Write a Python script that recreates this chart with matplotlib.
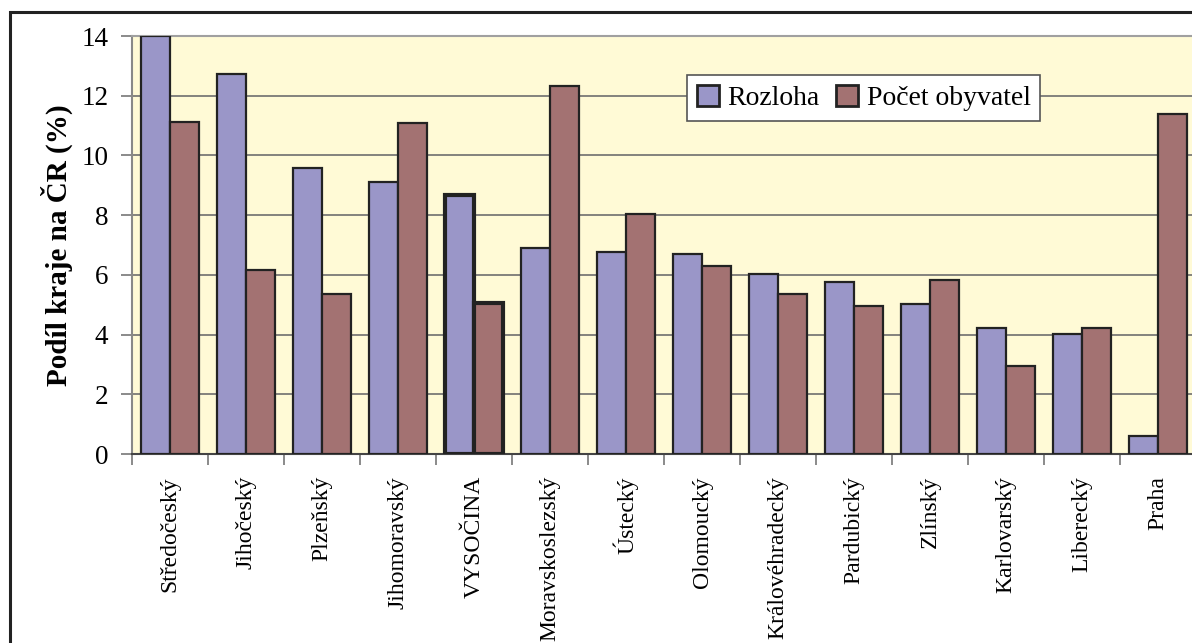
import matplotlib
matplotlib.use("Agg")
import matplotlib.pyplot as plt
from matplotlib.patches import Rectangle
import numpy as np

regions = ["Středočeský", "Jihočeský", "Plzeňský", "Jihomoravský", "VYSOČINA",
           "Moravskoslezský", "Ústecký", "Olomoucký", "Královéhradecký", "Pardubický",
           "Zlínský", "Karlovarský", "Liberecký", "Praha"]
rozloha = [14.0, 12.73, 9.59, 9.11, 8.67, 6.91, 6.78, 6.71, 6.04, 5.76, 5.02, 4.22, 4.02, 0.60]
obyvatel = [11.11, 6.16, 5.36, 11.08, 5.05, 12.34, 8.04, 6.30, 5.36, 4.96, 5.83, 2.95, 4.22, 11.39]
series_names = ["Rozloha", "Počet obyvatel"]
yticks = [0, 2, 4, 6, 8, 10, 12, 14]

plt.rcParams['font.family'] = ['Liberation Serif', 'DejaVu Serif']

W, H = 1192, 643
fig = plt.figure(figsize=(W / 100, H / 100), dpi=100)
fig.patch.set_facecolor('white')

# outer frame (extends beyond right/bottom edges)
fig.patches.append(Rectangle((10 / W, -0.05), 1.2, 1 - 12 / H + 0.05,
                             transform=fig.transFigure, fill=False,
                             edgecolor='#222222', linewidth=2.2, zorder=0))

ax = fig.add_axes([132 / W, 189 / H, 1064 / W, 418 / H])
ax.set_facecolor('#FFFAD6')

x = np.arange(len(regions))
w = 0.38
c1, c2 = '#9A96C8', '#A37272'
lws = [3.0 if r == "VYSOČINA" else 1.6 for r in regions]
b1 = ax.bar(x - w / 2, rozloha, w, color=c1, edgecolor='#222222', linewidth=lws, zorder=3, label=series_names[0])
b2 = ax.bar(x + w / 2, obyvatel, w, color=c2, edgecolor='#222222', linewidth=lws, zorder=3, label=series_names[1])

ax.set_xlim(-0.5, len(regions) - 0.5)
ax.set_ylim(0, 14)
ax.set_yticks(yticks)
ax.set_yticklabels([str(v) for v in yticks], fontsize=19.5)
ax.yaxis.grid(True, color='#6E6E6E', linewidth=1.2, zorder=1)
ax.set_axisbelow(True)

ax.set_xticks(np.arange(len(regions) + 1) - 0.5)
ax.set_xticklabels([])
ax.set_xticks(x, minor=True)
ax.set_xticklabels(regions, minor=True, rotation=90, fontsize=17, va='top', ha='center')
ax.tick_params(axis='x', which='minor', length=0, pad=16)
ax.tick_params(axis='x', which='major', length=8, width=1.2, color='#777777', direction='out')
ax.tick_params(axis='y', length=8, width=1.2, color='#777777', direction='out', pad=9)

ax.spines['right'].set_visible(False)
ax.spines['top'].set_color('#A0A0A0')
ax.spines['top'].set_linewidth(1.5)
ax.spines['left'].set_color('#888888')
ax.spines['left'].set_linewidth(1.5)
ax.spines['bottom'].set_color('#444444')
ax.spines['bottom'].set_linewidth(1.5)

ax.set_ylabel("Podíl kraje na ČR (%)", fontsize=21, fontweight='bold', labelpad=6)

leg = fig.legend(handles=[b1, b2], labels=series_names, loc='upper left',
                 bbox_to_anchor=(687 / W, 1 - 75 / H), ncol=2, fontsize=20,
                 frameon=True, fancybox=False, shadow=False, framealpha=1,
                 edgecolor='#555555', handlelength=0.8, handleheight=0.8,
                 handletextpad=0.3, columnspacing=0.6, borderpad=0.35,
                 borderaxespad=0)
leg.get_frame().set_linewidth(1.2)
for p in leg.get_patches():
    p.set_linewidth(2.0)

fig.savefig("out.png", dpi=100)
